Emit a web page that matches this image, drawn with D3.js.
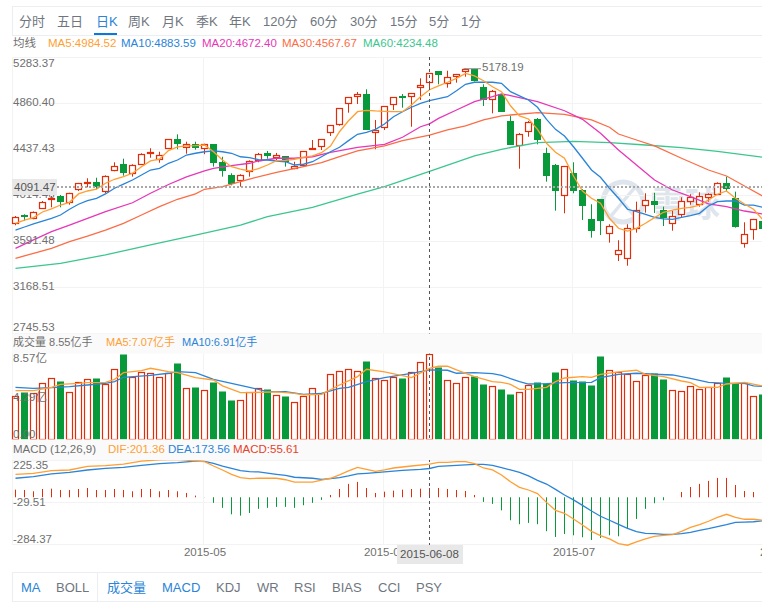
<!DOCTYPE html>
<meta charset="utf-8">
<style>
  body { margin: 0; background: #fff; }
  svg { display: block; }
  text { font-family: "Liberation Sans", "Noto Sans CJK SC", sans-serif; }
  .domain { display: none; }
</style>
<script src="https://d3js.org/d3.v7.min.js"></script>
<div id="chart"></div>

<script>

// trading days, first one is 2015-04-01
var days = ["04-01","04-02","04-03","04-07","04-08","04-09","04-10","04-13","04-14","04-15","04-16","04-17","04-20","04-21","04-22","04-23","04-24","04-27","04-28","04-29","04-30",
  "05-04","05-05","05-06","05-07","05-08","05-11","05-12","05-13","05-14","05-15","05-18","05-19","05-20","05-21","05-22","05-25","05-26","05-27","05-28","05-29",
  "06-01","06-02","06-03","06-04","06-05","06-08","06-09","06-10","06-11","06-12","06-15","06-16","06-17","06-18","06-19","06-23","06-24","06-25","06-26","06-29","06-30",
  "07-01","07-02","07-03","07-06","07-07","07-08","07-09","07-10","07-13","07-14","07-15","07-16","07-17","07-20","07-21","07-22","07-23","07-24","07-27","07-28","07-29","07-30","07-31",
  "08-03"];

// candles
var open = [3757,3836,3809,3904,3983,4008,3950,4072,4128,4134,4057,4254,4300,4226,4305,4404,4351,4443,4529,4456,4483,4449,4483,4321,4198,4155,4238,4342,4404,4369,4373,4268,4287,4434,4461,4590,4664,4860,4930,4946,4599,4636,4848,4928,4921,5017,5054,5157,5054,5109,5155,5176,5010,4897,4946,4698,4474,4612,4716,4403,4293,4011,4220,4063,3797,3981,3661,3468,3432,3711,3923,3962,3877,3757,3836,3959,3941,3993,4024,4125,3990,3582,3702,3778];
var close = [3812,3821,3864,3956,3993,3956,4033,4125,4140,4084,4195,4287,4213,4296,4397,4413,4388,4529,4480,4483,4443,4483,4309,4241,4116,4204,4333,4397,4376,4385,4314,4284,4419,4447,4529,4658,4814,4916,4949,4615,4618,4833,4916,4909,4952,5032,5136,5121,5105,5127,5176,5066,4891,4971,4783,4477,4575,4691,4523,4192,4054,4281,4054,3916,3686,3778,3729,3509,3711,3877,3969,3925,3806,3821,3959,3996,4011,4024,4125,4072,3726,3661,3794,3707];
var high = [3824,3840,3866,3962,4008,4017,4038,4128,4171,4176,4198,4318,4351,4300,4401,4447,4415,4532,4575,4507,4507,4489,4486,4369,4217,4208,4336,4404,4422,4404,4376,4323,4422,4523,4532,4661,4817,4918,4964,4989,4707,4836,4918,4946,4955,5090,5139,5157,5160,5130,5178.19,5178,5035,4983,4946,4744,4587,4698,4725,4452,4302,4284,4318,4072,3932,3981,3748,3601,3748,3956,4033,4038,3910,3873,3996,4024,4042,4033,4134,4186,4048,3766,3797,3806];
var low = [3739,3781,3794,3889,3904,3904,3928,4054,4088,4070,4033,4235,4195,4186,4302,4360,4314,4440,4438,4397,4434,4392,4278,4186,4106,4094,4186,4318,4351,4333,4278,4254,4278,4431,4431,4560,4654,4774,4854,4615,4438,4615,4799,4820,4645,4891,4983,5035,5004,5050,5105,5061,4836,4768,4780,4477,4259,4553,4483,4140,3873,3849,4033,3787,3625,3649,3579,3410,3367,3671,3855,3852,3732,3689,3812,3928,3910,3956,4017,4051,3717,3533,3606,3705];

// price moving averages, one reading per candle for the two short ones
var ma5 = [3757,3787,3810,3861,3889,3925,3950,4027,4054,4070,4125,4162,4186,4217,4277,4330,4346,4425,4459,4468,4471,4477,4415,4339,4277,4256,4238,4259,4293,4333,4336,4346,4364,4376,4406,4468,4599,4700,4783,4796,4790,4787,4783,4783,4845,4921,4985,5020,5054,5090,5136,5112,5068,5013,4967,4838,4744,4716,4621,4493,4410,4355,4192,4054,3987,3941,3803,3711,3686,3711,3757,3809,3858,3879,3895,3904,3925,3971,4024,4054,3987,3935,3886,3794];
var ma10 = [3695,3723,3751,3778,3803,3833,3886,3932,3965,3987,4027,4079,4118,4155,4201,4247,4263,4309,4339,4385,4401,4415,4422,4415,4401,4369,4360,4342,4339,4330,4323,4293,4300,4323,4369,4415,4456,4517,4575,4594,4621,4670,4737,4783,4824,4860,4884,4903,4921,4976,5035,5054,5054,5054,5044,4967,4928,4891,4824,4713,4621,4560,4461,4355,4247,4180,4079,3987,3886,3864,3840,3812,3797,3794,3812,3827,3849,3916,3956,3962,3962,3925,3925,3904];

// the slow ones were read at fewer candles
var ma20At = [0,2,4,6,8,10,13,15,17,19,21,22,24,26,27,29,31,33,35,38,41,43,45,46,47,49,51,53,54,55,58,61,63,65,67,69,71,73,75,77,79,81,83];
var ma20 = [3527,3604,3680,3741,3803,3864,3946,4033,4114,4183,4240,4263,4287,4309,4330,4355,4355,4369,4410,4456,4483,4548,4645,4672,4722,4799,4875,4921,4946,4932,4875,4792,4713,4585,4431,4293,4155,4063,4002,3935,3910,3870,3843];
var ma30At = [0,2,4,6,8,10,12,14,16,18,20,21,23,25,26,29,32,34,36,38,41,43,46,48,50,52,54,55,58,61,64,66,67,69,71,74,77,79,81,83];
var ma30 = [3435,3481,3527,3588,3640,3695,3757,3833,3910,3978,4027,4070,4094,4140,4164,4226,4278,4314,4369,4422,4468,4517,4568,4615,4652,4707,4744,4753,4774,4759,4707,4640,4578,4523,4468,4355,4247,4192,4100,4008];
var ma60At = [0,5,10,15,20,25,28,33,38,41,46,51,54,55,58,62,66,70,74,78,83];
var ma60 = [3343,3389,3466,3558,3649,3741,3818,3904,4026,4094,4234,4376,4436,4454,4498,4511,4498,4477,4452,4419,4364];

// volume, in 亿手
var volume = [4.35,4.72,4.65,5.58,6.08,5.81,4.75,5.75,5.98,6.11,5.48,6.98,8.50,6.25,6.68,6.58,6.18,6.64,7.61,5.08,5.22,4.88,5.75,4.82,3.92,3.89,4.75,5.15,5.02,4.39,4.32,3.69,4.29,5.08,4.58,6.48,6.78,6.98,6.78,7.81,6.08,5.88,6.18,6.11,6.68,7.67,8.55,7.24,5.88,5.58,6.18,6.31,5.51,5.28,5.02,4.52,4.68,5.38,5.71,5.61,6.71,6.98,5.91,5.81,5.41,8.31,6.88,6.68,6.48,5.78,6.41,6.61,6.01,4.88,4.78,5.28,4.98,5.18,5.58,6.21,5.58,5.58,4.29,4.52];
var volMa5At = [0,2,4,5,7,8,10,11,12,14,15,17,18,20,22,23,25,26,29,31,32,34,36,38,39,41,44,46,47,48,49,51,53,54,55,56,57,59,60,61,63,64,65,67,69,70,72,74,75,76,78,79,81,83];
var volMa5 = [4.85,4.85,5.18,5.48,5.58,5.65,5.68,5.98,6.64,6.84,7.08,6.74,6.64,6.15,5.91,5.32,4.65,4.65,4.72,4.58,4.42,4.48,5.41,6.25,6.98,6.71,6.15,7.07,7.28,7.28,6.91,6.25,5.75,5.68,5.48,4.98,4.98,5.18,5.75,6.11,6.25,6.18,6.48,6.71,6.88,6.48,6.25,5.81,5.65,5.18,5.18,5.51,5.68,5.32];
var volMa10At = [0,2,4,6,8,10,11,12,15,17,18,20,22,24,26,28,30,32,34,36,37,39,41,44,46,48,49,51,53,54,55,56,57,59,61,64,65,67,69,71,73,75,77,79,81,82,83];
var volMa10 = [5.18,5.08,5.15,5.25,5.41,5.58,5.75,6.18,6.38,6.58,6.74,6.64,5.98,5.58,5.18,4.75,4.75,4.48,4.58,5.08,5.18,5.75,6.15,6.58,6.91,6.88,6.58,6.64,6.54,6.38,6.05,5.75,5.51,5.55,5.65,5.68,6.15,6.48,6.58,6.48,6.41,6.08,5.68,5.58,5.58,5.32,5.28];

// MACD
var macdHist = [46,44,36,50,52,44,44,50,56,44,44,50,44,36,50,50,36,44,36,26,10,1,-34,-64,-103,-111,-95,-70,-64,-58,-58,-64,-48,-34,-16,14,50,81,93,56,26,34,40,46,50,52,56,56,50,44,38,14,-28,-40,-79,-139,-163,-155,-163,-205,-240,-222,-230,-242,-258,-246,-230,-236,-191,-131,-70,-36,-18,0,32,62,81,99,117,117,74,38,32,0];
var difAt = [0,2,4,6,8,10,12,14,16,18,19,20,21,22,23,24,25,26,27,29,30,31,33,34,35,36,37,38,39,40,41,42,44,46,47,48,49,50,51,52,53,54,55,56,57,58,59,60,61,62,63,64,65,66,67,68,69,70,71,72,73,74,75,76,77,78,79,80,81,82,83];
var dif = [139,145,161,165,187,191,201,219,227,229,225,219,215,189,165,139,119,113,115,115,106,92,92,104,115,135,159,181,169,157,165,177,189,201,211,211,215,215,203,177,165,135,94,60,44,22,-31,-79,-97,-131,-168,-206,-232,-252,-280,-290,-270,-252,-236,-230,-226,-206,-182,-166,-145,-121,-103,-121,-133,-133,-139];
var deaAt = [0,2,4,6,8,10,12,14,16,18,20,21,22,23,24,25,26,27,29,30,31,33,34,35,36,37,38,39,41,43,45,46,47,49,51,52,53,54,55,56,57,58,59,60,61,62,63,64,65,66,67,68,69,70,71,72,73,74,75,76,77,78,79,80,81,82,83];
var dea = [115,125,141,151,165,175,181,193,203,209,219,217,205,189,175,161,155,153,139,133,121,115,108,113,119,129,141,145,153,163,169,174,187,193,199,199,193,179,165,151,129,102,80,48,14,-16,-49,-83,-115,-139,-164,-188,-208,-218,-220,-224,-224,-220,-212,-200,-190,-178,-166,-152,-150,-148,-143];

// axis ticks
var priceTicks = [2745.53,3168.51,3591.48,4014.46,4437.43,4860.40,5283.37];
var volTicks = [0,4.29,8.57];
var macdTicks = [-284.37,-29.51,225.35];
var monthStarts = ["05-04","06-01","07-01","08-03"];
var monthLabels = ["2015-05","2015-06","2015-07","2015-08"];

var width = 762, height = 607;
var red = "#e22d0a", green = "#07993a", gridColor = "#f3f3f3", textColor = "#6f6f6f";

var svg = d3.select("#chart").append("svg")
  .attr("width", width)
  .attr("height", height);

// scales
var x = d3.scalePoint().domain(days).range([15.5, 15.5 + 9 * (days.length - 1)]);
var priceY = d3.scaleLinear().domain([2745.53, 5283.37]).range([333.3, 57.3]);
var volY = d3.scaleLinear().domain([0, 8.57]).range([439.3, 353.3]);
var macdY = d3.scaleLinear().domain([-284.37, 225.35]).range([544.3, 460]);

// watermark sits behind everything
var mark = svg.append("g").attr("fill", "none").attr("stroke", "#dfe5ec").attr("stroke-width", 5);
mark.append("circle").attr("cx", 623).attr("cy", 202).attr("r", 20);
mark.append("path").attr("d", "M611 188 L636 218 M636 186 L611 216").attr("stroke-width", 3.5);
svg.append("text").attr("x", 650).attr("y", 217).attr("fill", "#dfe5ec")
  .style("font-size", "35px").style("font-weight", "bold").text("雪球");

// grid
var grid = svg.append("g").attr("stroke", gridColor).attr("stroke-width", 1);
priceTicks.forEach(function(t) {
  grid.append("line").attr("x1", 12).attr("x2", width).attr("y1", Math.round(priceY(t)) + 0.5).attr("y2", Math.round(priceY(t)) + 0.5);
});
macdTicks.forEach(function(t) {
  grid.append("line").attr("x1", 12).attr("x2", width).attr("y1", Math.round(macdY(t)) + 0.5).attr("y2", Math.round(macdY(t)) + 0.5);
});
monthStarts.slice(0, 3).forEach(function(d) {
  grid.append("line").attr("x1", x(d) - 1).attr("x2", x(d) - 1).attr("y1", 57).attr("y2", 545);
});
grid.append("line").attr("x1", 12.5).attr("x2", 12.5).attr("y1", 57).attr("y2", 545);

// candles
var candles = svg.append("g").selectAll("g").data(open).enter().append("g");
candles.append("line")
  .attr("x1", function(d, i) { return x(days[i]); })
  .attr("x2", function(d, i) { return x(days[i]); })
  .attr("y1", function(d, i) { return priceY(high[i]); })
  .attr("y2", function(d, i) { return priceY(low[i]); })
  .attr("stroke", function(d, i) { return close[i] >= open[i] ? red : green; });
candles.append("rect")
  .attr("x", function(d, i) { return close[i] >= open[i] ? x(days[i]) - 3 : x(days[i]) - 3.5; })
  .attr("width", function(d, i) { return close[i] >= open[i] ? 6 : 7; })
  .attr("y", function(d, i) { return Math.round(priceY(Math.max(open[i], close[i]))) + (close[i] >= open[i] ? 0.5 : 0); })
  .attr("height", function(d, i) { return Math.max(1, Math.round(Math.abs(priceY(open[i]) - priceY(close[i])))); })
  .attr("fill", function(d, i) { return close[i] >= open[i] ? "#fff" : green; })
  .attr("stroke", function(d, i) { return close[i] >= open[i] ? red : "none"; })
  .attr("stroke-width", 1.2);

// volume bars
svg.append("g").selectAll("rect").data(volume).enter().append("rect")
  .attr("x", function(d, i) { return close[i] >= open[i] ? x(days[i]) - 3 : x(days[i]) - 3.5; })
  .attr("width", function(d, i) { return close[i] >= open[i] ? 6 : 7; })
  .attr("y", function(d) { return Math.round(volY(d)) + 0.5; })
  .attr("height", function(d) { return 439.5 - Math.round(volY(d)) - 0.5; })
  .attr("fill", function(d, i) { return close[i] >= open[i] ? "#fff" : green; })
  .attr("stroke", function(d, i) { return close[i] >= open[i] ? red : "none"; })
  .attr("stroke-width", 1.2);

// macd bars
svg.append("g").selectAll("line").data(macdHist).enter().append("line")
  .attr("x1", function(d, i) { return x(days[i]); })
  .attr("x2", function(d, i) { return x(days[i]); })
  .attr("y1", macdY(0))
  .attr("y2", function(d) { return macdY(d); })
  .attr("stroke", function(d) { return d >= 0 ? red : green; });

// all the indicator lines are drawn the same way
function drawLine(at, values, scale, color) {
  var pts = values.map(function(v, i) { return [at ? at[i] : i, v]; });
  svg.append("path")
    .datum(pts)
    .attr("fill", "none")
    .attr("stroke", color)
    .attr("stroke-width", 1.3)
    .attr("d", d3.line()
      .x(function(d) { return x(days[d[0]]); })
      .y(function(d) { return scale(d[1]); }));
}

var c5 = "#ff9f33", c10 = "#2a84d8", c20 = "#e637b8", c30 = "#fb6d47", c60 = "#3cc68e";
drawLine(ma60At, ma60, priceY, c60);
drawLine(ma30At, ma30, priceY, c30);
drawLine(ma20At, ma20, priceY, c20);
drawLine(null, ma10, priceY, c10);
drawLine(null, ma5, priceY, c5);
drawLine(volMa10At, volMa10, volY, c10);
drawLine(volMa5At, volMa5, volY, c5);
drawLine(deaAt, dea, macdY, c10);
drawLine(difAt, dif, macdY, c5);

// crosshair
svg.append("line")
  .attr("x1", x("06-08")).attr("x2", x("06-08")).attr("y1", 57).attr("y2", 545)
  .attr("stroke", "#555").attr("stroke-dasharray", "3,3");
svg.append("line")
  .attr("x1", 57).attr("x2", width).attr("y1", priceY(4091.47)).attr("y2", priceY(4091.47))
  .attr("stroke", "#a8a8a8").attr("stroke-width", 2).attr("stroke-dasharray", "2,2");

// legend bands cover the bottom of the volume bars and the crosshair
svg.append("rect").attr("x", 12).attr("y", 333.5).attr("width", 750).attr("height", 20).attr("fill", "#fafafa");
svg.append("rect").attr("x", 12).attr("y", 440).attr("width", 750).attr("height", 20).attr("fill", "#fafafa");
svg.append("rect").attr("x", 12).attr("y", 439).attr("width", 750).attr("height", 1).attr("fill", "#fff").attr("opacity", 0.65);

// value axes sit inside the plot, labels nudged away from the panel edges
function yAxis(scale, ticks, format, nudge) {
  var g = svg.append("g")
    .attr("transform", "translate(13,0)")
    .call(d3.axisRight(scale).tickValues(ticks).tickSize(0).tickPadding(0).tickFormat(format));
  g.selectAll("text")
    .attr("fill", textColor)
    .style("font-size", "11.5px")
    .attr("dy", function(d) { return nudge(d) + "px"; });
}
function twoPlaces(d) { return d.toFixed(2); }
yAxis(priceY, priceTicks, twoPlaces, function(d) {
  return d == 5283.37 ? 9 : d == 2745.53 ? -2.5 : 2;
});
yAxis(volY, volTicks, function(d) { return d == 0 ? "0.00" : d + "亿"; }, function(d) {
  return d == 8.57 ? 8 : d == 0 ? -2 : 4;
});
yAxis(macdY, macdTicks, twoPlaces, function(d) {
  return d == 225.35 ? 8 : d == -284.37 ? -2 : 3;
});

// date axis
svg.append("g")
  .attr("transform", "translate(0,545)")
  .call(d3.axisBottom(x).tickValues(monthStarts).tickSize(0).tickPadding(3)
    .tickFormat(function(d, i) { return monthLabels[i]; }))
  .selectAll("text")
    .attr("fill", textColor)
    .style("font-size", "11.5px");

// crosshair labels
svg.append("rect").attr("x", 12).attr("y", 179).attr("width", 45).attr("height", 16).attr("fill", "#e8e8e8");
svg.append("text").attr("x", 14).attr("y", 191).attr("fill", "#555").style("font-size", "11.5px").text("4091.47");
svg.append("rect").attr("x", 397).attr("y", 545).attr("width", 66).attr("height", 19).attr("fill", "#e8e8e8");
svg.append("text").attr("x", 400).attr("y", 558).attr("fill", "#555").style("font-size", "11.5px").text("2015-06-08");

// highest price marker
svg.append("line").attr("x1", x("06-12") - 2).attr("x2", 481).attr("y1", priceY(5178.19)).attr("y2", priceY(5178.19)).attr("stroke", "#888");
svg.append("text").attr("x", 482).attr("y", 71).attr("fill", textColor).style("font-size", "11.5px").text("5178.19");

// legend rows
function legend(y, items, size) {
  items.forEach(function(t) {
    svg.append("text").attr("x", t[0]).attr("y", y).attr("fill", t[2]).style("font-size", size || "11.5px").text(t[1]);
  });
}
legend(47, [[13, "均线", textColor], [48, "MA5:4984.52", c5], [121, "MA10:4883.59", c10], [202, "MA20:4672.40", c20], [282, "MA30:4567.67", c30], [363, "MA60:4234.48", c60]]);
legend(346, [[13, "成交量 8.55亿手", textColor], [106, "MA5:7.07亿手", c5], [182, "MA10:6.91亿手", c10]], "11px");
legend(453, [[13, "MACD (12,26,9)", textColor], [108, "DIF:201.36", c5], [168, "DEA:173.56", c10], [233, "MACD:55.61", "#e8412a"]]);

// top and bottom tabs
var boxColor = "#eceef2";
svg.append("path").attr("d", "M762 6.5 H12.5 V35.5 H762").attr("fill", "none").attr("stroke", boxColor).attr("stroke-width", 1.2);
svg.append("path").attr("d", "M762 572.5 H12.5 V601.5 H762 M97.5 572.5 V601.5").attr("fill", "none").attr("stroke", boxColor).attr("stroke-width", 1.2);

var topTabs = [[19, "分时"], [57, "五日"], [96, "日K"], [128, "周K"], [162, "月K"], [196, "季K"], [229, "年K"], [263, "120分"], [310, "60分"], [350, "30分"], [390, "15分"], [429, "5分"], [461, "1分"]];
topTabs.forEach(function(t) {
  svg.append("text").attr("x", t[0]).attr("y", 26)
    .attr("fill", t[1] == "日K" ? "#2a84d8" : "#6f7680")
    .style("font-size", "13px").text(t[1]);
});
svg.append("rect").attr("x", 94).attr("y", 33).attr("width", 23).attr("height", 2).attr("fill", "#0a78dc");

var bottomTabs = [[21, "MA", 1], [56, "BOLL", 0], [107, "成交量", 1], [162, "MACD", 1], [216, "KDJ", 0], [257, "WR", 0], [294, "RSI", 0], [332, "BIAS", 0], [378, "CCI", 0], [416, "PSY", 0]];
bottomTabs.forEach(function(t) {
  svg.append("text").attr("x", t[0]).attr("y", 592)
    .attr("fill", t[2] ? "#2a84d8" : "#6f7680")
    .style("font-size", "13px").text(t[1]);
});

</script>
